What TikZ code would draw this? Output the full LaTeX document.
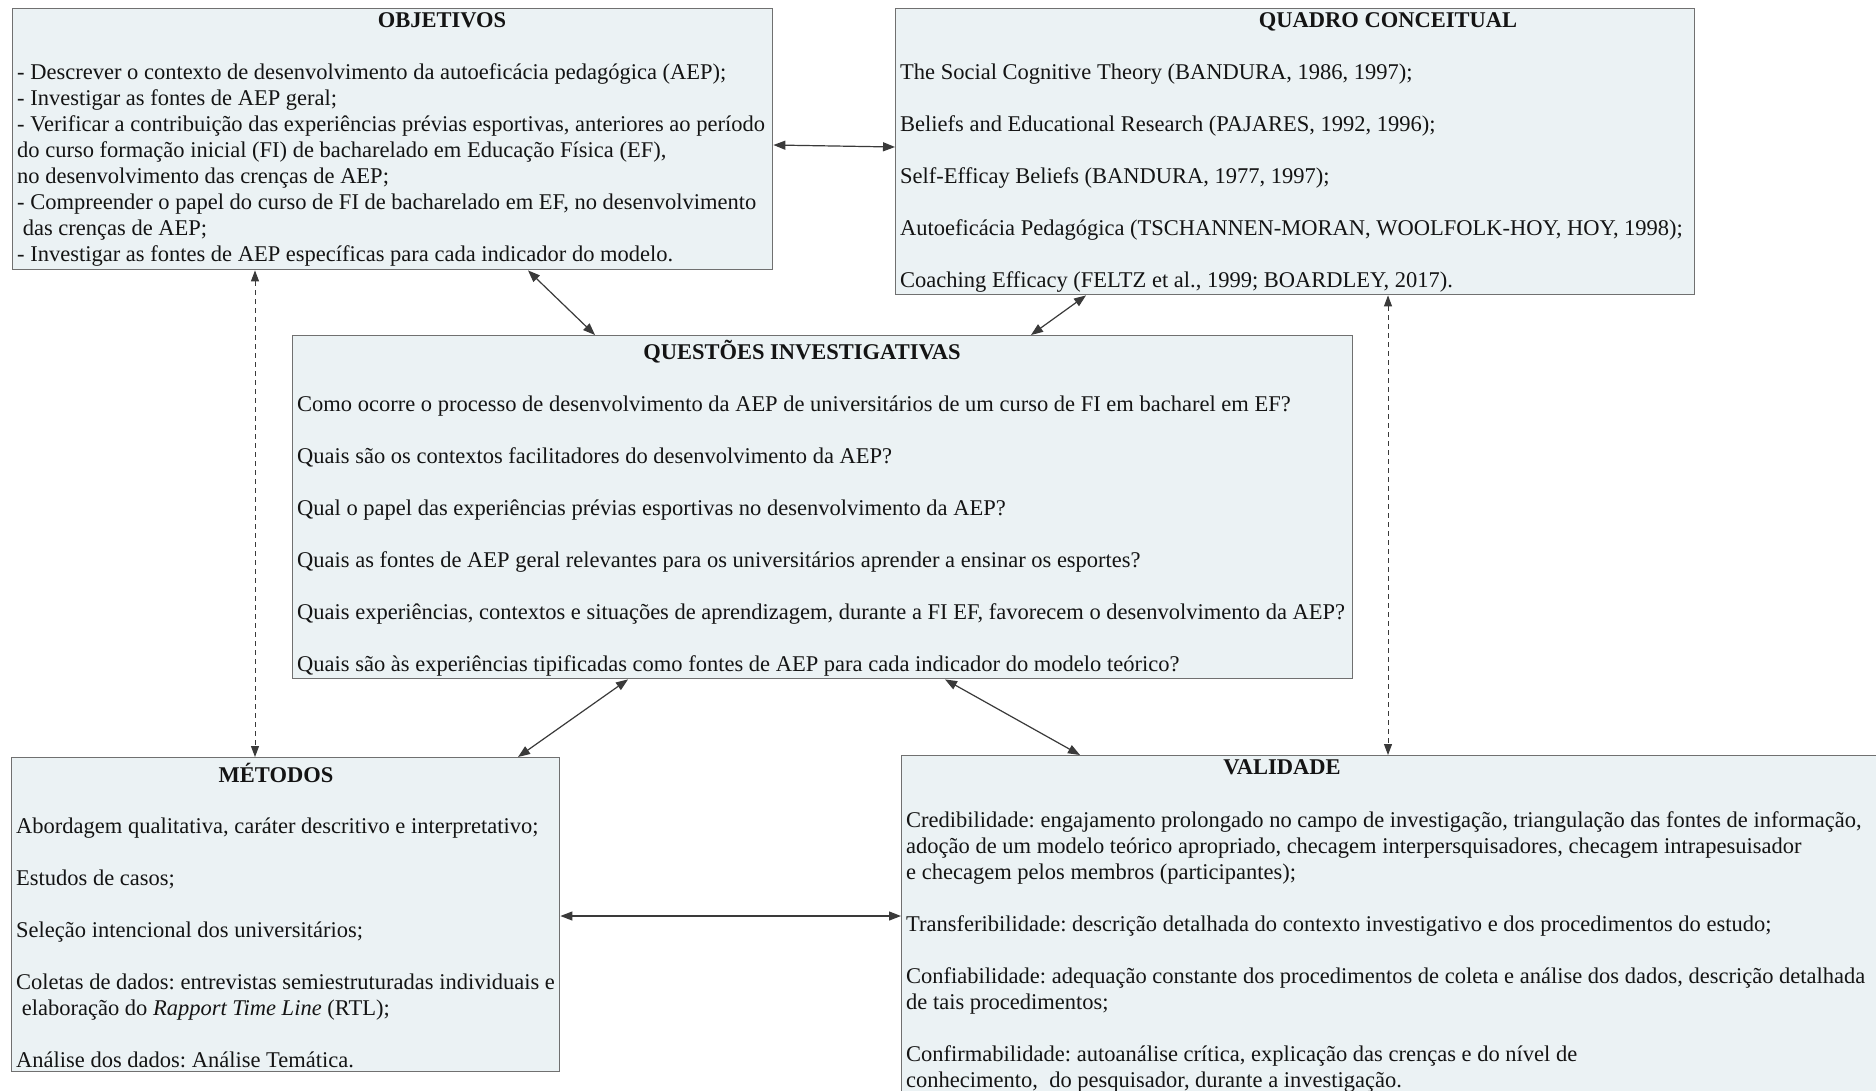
\documentclass[tikz,border=0pt]{standalone}
\usepackage{fontspec}
\setmainfont{Liberation Serif}
\usetikzlibrary{arrows.meta,calc}
\frenchspacing
\definecolor{boxfill}{HTML}{EBF2F4}
\definecolor{boxline}{HTML}{707070}
\definecolor{arrowcol}{HTML}{3A3A3A}
\definecolor{txt}{HTML}{141414}
\begin{document}
\begin{tikzpicture}[x=1pt,y=-1pt,
  box/.style={draw=boxline,fill=boxfill,line width=1.4pt,rectangle,inner sep=0pt,anchor=north west},
  title/.style={anchor=base,inner sep=0pt,font=\fontsize{22.5}{26}\selectfont\bfseries,text=txt},
  body/.style={anchor=north west,inner sep=0pt,align=left,font=\fontsize{22.5}{26}\selectfont\frenchspacing,text=txt},
  link/.style={draw=arrowcol,line width=1.2pt,{Triangle[length=12pt,width=9pt]}-{Triangle[length=12pt,width=9pt]}},
  dlink/.style={draw=arrowcol,line width=1pt,dash pattern=on 5pt off 4pt,{Triangle[length=11pt,width=8pt]}-{Triangle[length=11pt,width=8pt]}}
]
\clip (0,0) rectangle (1876,1090);
\fill[white] (0,0) rectangle (1876,1090);

% boxes
\node[box,minimum width=760pt,minimum height=261pt] (obj) at (12,8) {};
\node[box,minimum width=799pt,minimum height=286pt] (qc) at (895,8) {};
\node[box,minimum width=1060pt,minimum height=343pt] (qi) at (292,335) {};
\node[box,minimum width=548pt,minimum height=314pt] (met) at (11,757) {};
\node[box,minimum width=978pt,minimum height=360pt] (val) at (901,755) {};

% titles
\node[title] (objt) at (442,27) {OBJETIVOS};
\node[title] (qct) at (1388,27) {QUADRO CONCEITUAL};
\node[title] (qit) at (802,359) {QUESTÕES INVESTIGATIVAS};
\node[title] (mett) at (276,782) {MÉTODOS};
\node[title] (valt) at (1282,774) {VALIDADE};

% bodies
\node[body] (objb) at (17,61) {\strut - Descrever o contexto de desenvolvimento da autoeficácia pedagógica (AEP);\\
- Investigar as fontes de AEP geral;\\
- Verificar a contribuição das experiências prévias esportivas, anteriores ao período\\
do curso formação inicial (FI) de bacharelado em Educação Física (EF),\\
no desenvolvimento das crenças de AEP;\\
- Compreender o papel do curso de FI de bacharelado em EF, no desenvolvimento\\
\ das crenças de AEP;\\
- Investigar as fontes de AEP específicas para cada indicador do modelo.};

\node[body] (qcb) at (900,61) {\strut The Social Cognitive Theory (BANDURA, 1986, 1997);\\[26pt]
Beliefs and Educational Research (PAJARES, 1992, 1996);\\[26pt]
Self-Efficay Beliefs (BANDURA, 1977, 1997);\\[26pt]
Autoeficácia Pedagógica (TSCHANNEN-MORAN, WOOLFOLK-HOY, HOY, 1998);\\[26pt]
Coaching Efficacy (FELTZ et al., 1999; BOARDLEY, 2017).};

\node[body] (qib) at (297,393) {\strut Como ocorre o processo de desenvolvimento da AEP de universitários de um curso de FI em bacharel em EF?\\[26pt]
Quais são os contextos facilitadores do desenvolvimento da AEP?\\[26pt]
Qual o papel das experiências prévias esportivas no desenvolvimento da AEP?\\[26pt]
Quais as fontes de AEP geral relevantes para os universitários aprender a ensinar os esportes?\\[26pt]
Quais experiências, contextos e situações de aprendizagem, durante a FI EF, favorecem o desenvolvimento da AEP?\\[26pt]
Quais são às experiências tipificadas como fontes de AEP para cada indicador do modelo teórico?};

\node[body] (metb) at (16,815) {\strut Abordagem qualitativa, caráter descritivo e interpretativo;\\[26pt]
Estudos de casos;\\[26pt]
Seleção intencional dos universitários;\\[26pt]
Coletas de dados: entrevistas semiestruturadas individuais e\\
\ elaboração do \textit{Rapport Time Line} (RTL);\\[26pt]
Análise dos dados: Análise Temática.};

\node[body] (valb) at (906,809) {\strut Credibilidade: engajamento prolongado no campo de investigação, triangulação das fontes de informação,\\
adoção de um modelo teórico apropriado, checagem interpersquisadores, checagem intrapesuisador\\
e checagem pelos membros (participantes);\\[26pt]
Transferibilidade: descrição detalhada do contexto investigativo e dos procedimentos do estudo;\\[26pt]
Confiabilidade: adequação constante dos procedimentos de coleta e análise dos dados, descrição detalhada\\
de tais procedimentos;\\[26pt]
Confirmabilidade: autoanálise crítica, explicação das crenças e do nível de\\
conhecimento,\ \ do pesquisador, durante a investigação.};

% connector end points on the box borders
\coordinate (o1) at ($(obj.north east)+(0,137)$);
\coordinate (q1) at ($(qc.north west)+(0,139)$);
\coordinate (o2) at ($(obj.south west)+(516,0)$);
\coordinate (i2) at ($(qi.north west)+(303,0)$);
\coordinate (q3) at ($(qc.south west)+(191,0)$);
\coordinate (i3) at ($(qi.north west)+(739,0)$);
\coordinate (o4) at ($(obj.south west)+(243,0)$);
\coordinate (m4) at ($(met.north west)+(244,0)$);
\coordinate (q5) at ($(qc.south west)+(493,0)$);
\coordinate (v5) at ($(val.north west)+(487,0)$);
\coordinate (i6) at ($(qi.south west)+(336,0)$);
\coordinate (m6) at ($(met.north west)+(507,0)$);
\coordinate (i7) at ($(qi.south west)+(653,0)$);
\coordinate (v7) at ($(val.north west)+(179,0)$);
\coordinate (m8) at ($(met.north east)+(0,159)$);
\coordinate (v8) at ($(val.north west)+(0,161)$);

\draw[link] (o1) -- (q1);
\draw[link] (o2) -- (i2);
\draw[link] (q3) -- (i3);
\draw[dlink] (o4) -- (m4);
\draw[dlink] (q5) -- (v5);
\draw[link] (i6) -- (m6);
\draw[link] (i7) -- (v7);
\draw[link] (m8) -- (v8);
\end{tikzpicture}
\end{document}
